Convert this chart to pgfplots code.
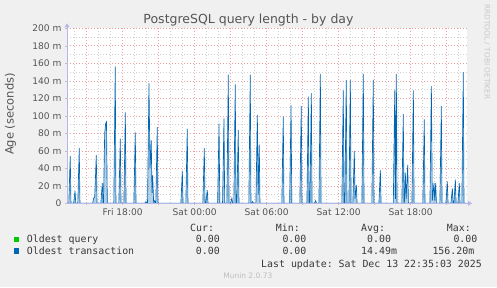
\documentclass[border=0pt]{standalone}
\usepackage{fontspec}
\setmainfont{DejaVu Sans}
\setmonofont{DejaVu Sans Mono}
\usepackage{pgfplots}
\pgfplotsset{compat=1.18}
\usetikzlibrary{arrows.meta}
\definecolor{mgreen}{HTML}{00CC00}
\definecolor{mblue}{HTML}{0066B3}
\definecolor{bg}{HTML}{F0F0F0}
\definecolor{majgrid}{HTML}{F0A0A0}
\definecolor{mingrid}{HTML}{CFCFCF}
\definecolor{axcol}{HTML}{B8B8E8}
\definecolor{txt}{HTML}{555555}
\definecolor{legtxt}{HTML}{3A3A3A}
\pgfplotstableread{
x y
-10.64 0
-10.49 0
-10.37 54
-10.31 0
-10.09 0
-9.97 14
-9.91 0
-9.74 0
-9.62 63
-9.56 0
-8.5 0
-8.42 6
-8.33 7
-8.2 55
-8.14 0
-7.82 0
-7.7 23
-7.64 0
-7.6 0
-7.5 80
-7.42 91
-7.35 93
-7.28 0
-6.74 0
-6.62 156.2
-6.56 0
-6.32 0
-6.2 74
-6.14 0
-5.9 0
-5.78 104
-5.72 0
-5.07 0
-4.95 81
-4.89 0
-4.16 0
-4.06 2
-4.0 0
-3.93 0
-3.81 137
-3.72 40
-3.62 72
-3.56 12
-3.5 32
-3.42 0
-3.33 3
-3.24 0
-3.12 87
-3.06 0
-1.15 0
-1.03 37
-0.97 0
-0.74 0
-0.62 85
-0.56 0
0.68 0
0.8 63
0.86 0
0.93 0
1.05 15
1.11 0
1.91 0
2.03 91
2.09 0
2.32 0
2.44 97
2.5 0
2.68 0
2.8 147
2.86 0
2.98 0
3.1 6
3.16 0
3.26 0
3.38 136
3.44 0
3.51 0
3.63 84
3.69 0
4.51 0
4.63 147
4.69 0
4.76 0
4.83 2
4.89 0
5.1 0
5.22 101
5.29 10
5.38 67
5.44 0
7.26 0
7.38 99
7.44 0
7.91 0
8.03 112
8.09 0
8.76 0
8.88 111
8.94 0
9.35 0
9.47 122
9.53 0
9.6 0
9.72 126
9.78 0
9.98 0
10.08 3
10.14 0
10.35 0
10.47 148
10.53 0
12.26 0
12.38 129
12.44 0
12.51 0
12.63 141
12.69 0
12.85 0
12.97 141
13.03 0
13.18 0
13.3 60
13.36 5
13.47 21
13.53 0
13.93 0
14.05 148
14.11 0
14.76 0
14.88 141
14.94 0
15.35 0
15.47 38
15.53 0
16.55 0
16.67 129
16.73 5
16.8 148
16.86 0
17.26 0
17.38 102
17.44 0
17.47 0
17.55 35
17.62 5
17.75 44
17.81 0
18.1 0
18.22 129
18.28 0
19.01 0
19.13 96
19.19 0
19.6 0
19.72 134
19.8 3
19.94 23
20.0 3
20.08 23
20.14 0
20.43 0
20.55 111
20.61 0
20.93 0
21.05 25
21.11 0
21.35 0
21.47 17
21.53 0
21.6 0
21.72 27
21.78 0
21.93 0
22.05 23
22.11 0
22.26 0
22.38 150
22.44 0
22.69 0
}\trans
\begin{document}
\begin{tikzpicture}[x=1pt,y=1pt]
\fill[bg] (0,0) rectangle (497,287);
\begin{axis}[at={(67pt,83.7pt)}, anchor=south west, scale only axis,
  width=400pt, height=175pt,
  xmin=-10.64, xmax=22.69, ymin=0, ymax=200,
  axis lines=left,
  axis line style={draw=axcol, line width=0.8pt, -{Triangle[length=4pt,width=5pt]}, shorten >=-5pt},
  axis background/.style={fill=white},
  xtick={-9,-6,-3,0,3,6,9,12,15,18,21},
  xticklabels={,Fri 18:00,,Sat 00:00,,Sat 06:00,,Sat 12:00,,Sat 18:00,},
  minor xtick={-10,-8,-7,-5,-4,-2,-1,1,2,4,5,7,8,10,11,13,14,16,17,19,20,22},
  ytick={0,20,40,60,80,100,120,140,160,180,200},
  yticklabels={0,20 m,40 m,60 m,80 m,100 m,120 m,140 m,160 m,180 m,200 m},
  minor ytick={10,30,50,70,90,110,130,150,170,190},
  grid=both,
  major grid style={draw=majgrid, dash pattern=on 1pt off 2pt, line width=0.6pt},
  minor grid style={draw=mingrid, dash pattern=on 1pt off 2pt, line width=0.6pt},
  tick align=outside, major tick length=2pt, minor tick length=0pt,
  tick style={draw=gray!50, line width=0.5pt},
  tick label style={font=\fontsize{9.1}{10}\selectfont, text=txt},
]
\addplot[mgreen, line width=0.9pt] coordinates {(-10.64,0) (22.69,0)};
\addplot[draw=none, fill=mblue, fill opacity=0.3] table[x=x,y=y] {\trans};
\addplot[mblue, line width=0.65pt] table[x=x,y=y] {\trans};
\addplot[axcol, line width=0.8pt] coordinates {(-10.64,0) (22.69,0)};
\end{axis}
% title
\node[font=\fontsize{12.5}{14}\selectfont, text=txt] at (248.5,267) {PostgreSQL query length - by day};
% y label
\node[rotate=90, font=\fontsize{11.5}{12}\selectfont, text=txt] at (10.5,173) {Age (seconds)};
% rrdtool
\node[rotate=-90, font=\fontsize{7.4}{8}\selectfont, text={rgb,255:red,200;green,200;blue,200}] at (487,235) {RRDTOOL / TOBI OETIKER};
% legend
\begin{scope}[every node/.style={inner sep=0pt, anchor=base west, font=\ttfamily\fontsize{9.9}{11}\selectfont, text=legtxt}]
\node at (190,56) {Cur:};
\node at (275.7,56) {Min:};
\node at (361,56) {Avg:};
\node at (446.7,56) {Max:};
\fill[mgreen] (14,45) rectangle (19.3,50.4);
\node at (26.7,44.5) {Oldest query};
\node at (195.7,44.5) {0.00};
\node at (282.3,44.5) {0.00};
\node at (367,44.5) {0.00};
\node at (453.3,44.5) {0.00};
\fill[mblue] (14,33.3) rectangle (19.3,38.7);
\node at (26.7,32.8) {Oldest transaction};
\node at (195.7,32.8) {0.00};
\node at (282.3,32.8) {0.00};
\node at (361,32.8) {14.49m};
\node at (432.3,32.8) {156.20m};
\node at (261,20) {Last update: Sat Dec 13 22:35:03 2025};
\end{scope}
\node[inner sep=0pt, anchor=base, font=\fontsize{7.5}{8}\selectfont, text={rgb,255:red,190;green,190;blue,190}] at (247.8,8.3) {Munin 2.0.73};
\end{tikzpicture}
\end{document}
